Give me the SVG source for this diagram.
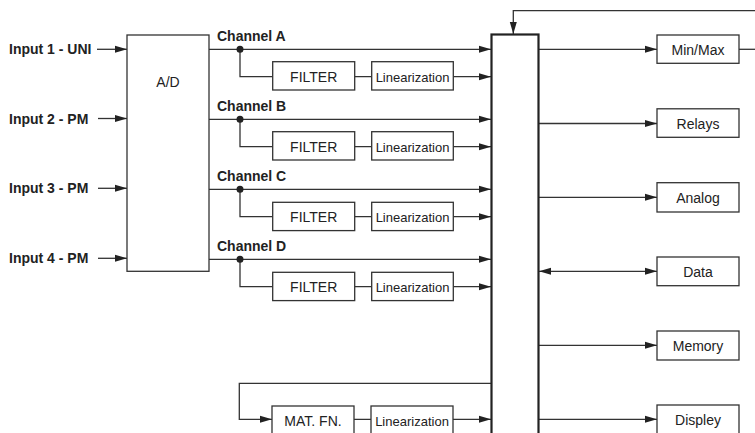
<svg xmlns="http://www.w3.org/2000/svg" width="755" height="433" viewBox="0 0 755 433">
<defs>
<style>
.bx{fill:#fff;stroke:#333;stroke-width:1.3}
.ln{fill:none;stroke:#333;stroke-width:1.3}
.lb{font-family:"Liberation Sans",Arial,sans-serif;font-size:14px;font-weight:bold;fill:#222}
.tx{font-family:"Liberation Sans",Arial,sans-serif;font-size:14px;fill:#222;text-anchor:middle}
.sm{font-size:13px}
</style>
<marker id="ah" markerUnits="userSpaceOnUse" markerWidth="12" markerHeight="8" refX="12" refY="3.5" orient="auto-start-reverse" viewBox="0 0 12 7">
<path d="M0,0 L12,3.5 L0,7 z" fill="#222"/>
</marker>
</defs>
<rect width="755" height="433" fill="#fff"/>
<g id="connectors">
<path class="ln" d="M97,49.3 H127" marker-end="url(#ah)"/>
<path class="ln" d="M98,118.5 H127" marker-end="url(#ah)"/>
<path class="ln" d="M98,188.3 H127" marker-end="url(#ah)"/>
<path class="ln" d="M98,258.3 H127" marker-end="url(#ah)"/>
<path class="ln" d="M209,49.3 H491" marker-end="url(#ah)"/>
<path class="ln" d="M209,119.3 H491" marker-end="url(#ah)"/>
<path class="ln" d="M209,189.3 H491" marker-end="url(#ah)"/>
<path class="ln" d="M209,259.3 H491" marker-end="url(#ah)"/>
<path class="ln" d="M240,49.3 V76.7 H272.7"/>
<path class="ln" d="M240,119.3 V146.7 H272.7"/>
<path class="ln" d="M240,189.3 V216.7 H272.7"/>
<path class="ln" d="M240,259.3 V286.7 H272.7"/>
<path class="ln" d="M354.7,76.7 H371.7 M354.7,146.7 H371.7 M354.7,216.7 H371.7 M354.7,286.7 H371.7 M354,419.3 H371"/>
<path class="ln" d="M453.3,76.7 H491" marker-end="url(#ah)"/>
<path class="ln" d="M453.3,146.7 H491" marker-end="url(#ah)"/>
<path class="ln" d="M453.3,216.7 H491" marker-end="url(#ah)"/>
<path class="ln" d="M453.3,286.7 H491" marker-end="url(#ah)"/>
<path class="ln" d="M453,419.3 H491" marker-end="url(#ah)"/>
<path class="ln" d="M491,383.3 H239.3 V419.3 H272" marker-end="url(#ah)"/>
<path class="ln" d="M755,10.7 H513.3 V34" marker-end="url(#ah)"/>
<path class="ln" d="M739,49.3 H755"/>
<path class="ln" d="M539,49.3 H657" marker-end="url(#ah)"/>
<path class="ln" d="M539,123.5 H657" marker-end="url(#ah)"/>
<path class="ln" d="M539,197.3 H657" marker-end="url(#ah)"/>
<path class="ln" d="M539,271.3 H657" marker-start="url(#ah)" marker-end="url(#ah)"/>
<path class="ln" d="M539,345.3 H657" marker-end="url(#ah)"/>
<path class="ln" d="M539,419.3 H657" marker-end="url(#ah)"/>
<g fill="#222">
<circle cx="240" cy="49.3" r="3.5"/>
<circle cx="240" cy="119.3" r="3.5"/>
<circle cx="240" cy="189.3" r="3.5"/>
<circle cx="240" cy="259.3" r="3.5"/>
</g>
</g>
<g id="labels">
<text class="lb" x="9" y="54">Input 1 - UNI</text>
<text class="lb" x="9" y="123.5">Input 2 - PM</text>
<text class="lb" x="9" y="193.3">Input 3 - PM</text>
<text class="lb" x="9" y="263.3">Input 4 - PM</text>
<text class="lb" x="217" y="40.7">Channel A</text>
<text class="lb" x="217" y="110.7">Channel B</text>
<text class="lb" x="217" y="180.7">Channel C</text>
<text class="lb" x="217" y="250.7">Channel D</text>
</g>
<g id="ad"><rect class="bx" x="127" y="35" width="82" height="236.3"/><text class="tx" x="168" y="87">A/D</text></g>
<g id="filterA"><rect class="bx" x="272.7" y="61.7" width="82" height="28.3"/><text class="tx" x="313.7" y="81.8">FILTER</text></g>
<g id="linA"><rect class="bx" x="371.7" y="61.7" width="81.6" height="28.3"/><text class="tx sm" x="412.5" y="81.5">Linearization</text></g>
<g id="filterB"><rect class="bx" x="272.7" y="131.7" width="82" height="28.3"/><text class="tx" x="313.7" y="151.8">FILTER</text></g>
<g id="linB"><rect class="bx" x="371.7" y="131.7" width="81.6" height="28.3"/><text class="tx sm" x="412.5" y="151.5">Linearization</text></g>
<g id="filterC"><rect class="bx" x="272.7" y="202.3" width="82" height="28.3"/><text class="tx" x="313.7" y="222.4">FILTER</text></g>
<g id="linC"><rect class="bx" x="371.7" y="202.3" width="81.6" height="28.3"/><text class="tx sm" x="412.5" y="222.1">Linearization</text></g>
<g id="filterD"><rect class="bx" x="272.7" y="272.3" width="82" height="28.3"/><text class="tx" x="313.7" y="292.4">FILTER</text></g>
<g id="linD"><rect class="bx" x="371.7" y="272.3" width="81.6" height="28.3"/><text class="tx sm" x="412.5" y="292.1">Linearization</text></g>
<g id="matfn"><rect class="bx" x="272" y="406" width="82" height="28.3"/><text class="tx" x="313" y="425.8">MAT. FN.</text></g>
<g id="linM"><rect class="bx" x="371" y="406" width="82" height="28.3"/><text class="tx sm" x="412" y="425.5">Linearization</text></g>
<g id="cpu"><rect x="491.5" y="34.5" width="47" height="420" fill="#fff" stroke="#222" stroke-width="2.2"/></g>
<g id="minmax"><rect class="bx" x="657" y="35" width="82" height="28.3"/><text class="tx" x="698" y="54.5">Min/Max</text></g>
<g id="relays"><rect class="bx" x="657" y="108.8" width="82" height="28.5"/><text class="tx" x="698" y="128.5">Relays</text></g>
<g id="analog"><rect class="bx" x="657" y="182.7" width="82" height="29.3"/><text class="tx" x="698" y="202.6">Analog</text></g>
<g id="data"><rect class="bx" x="657" y="257" width="82" height="28.7"/><text class="tx" x="698" y="276.6">Data</text></g>
<g id="memory"><rect class="bx" x="657" y="331" width="82" height="29"/><text class="tx" x="698" y="350.6">Memory</text></g>
<g id="displey"><rect class="bx" x="657" y="405" width="82" height="29"/><text class="tx" x="698" y="424.6">Displey</text></g>
</svg>
